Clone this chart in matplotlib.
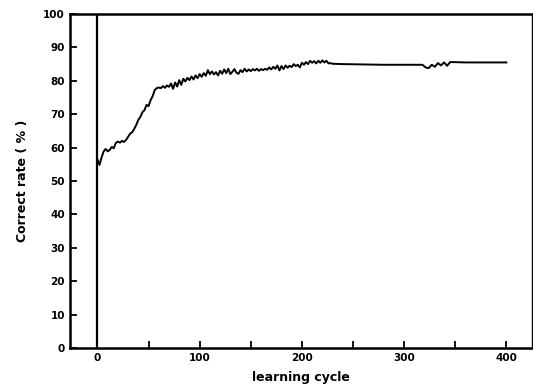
import matplotlib
matplotlib.use("Agg")
import matplotlib.pyplot as plt
from matplotlib.ticker import MultipleLocator

# learning cycles: every 2 cycles up to 230, then sparser tail
cycles_dense = list(range(0, 232, 2))
rate_dense = [56.5, 54.8, 57, 58.8, 59.6, 58.9, 59.3, 60.2, 59.8, 61.4,
              61.8, 61.5, 62, 61.7, 62.3, 63.2, 64.2, 64.6, 65.6, 66.8,
              68.3, 69.2, 70.6, 71.2, 72.8, 72.4, 74.2, 75.4, 77.2, 77.8,
              78, 77.8, 78.4, 77.9, 78.6, 78.2, 79.2, 77.6, 79.5, 78.3,
              80.2, 78.8, 80.6, 79.8, 80.9, 80.2, 81.3, 80.4, 81.6, 80.8,
              82, 81.2, 82.3, 81.5, 83.2, 82, 82.8, 81.9, 82.6, 81.6,
              83, 82.1, 83.4, 82.3, 83.6, 82, 82.7, 83.5, 82.4, 82.1,
              83.2, 82.6, 83.6, 82.8, 83.4, 82.9, 83.5, 83.1, 83.6, 83.0,
              83.5, 83.2, 83.6, 83.3, 84, 83.4, 84.2, 83.6, 84.6, 83.1,
              84.4, 83.5, 84.6, 83.9, 84.5, 84.1, 85, 84.4, 84.8, 84,
              85.4, 84.8, 85.6, 85, 86, 85.4, 85.9, 85.2, 86, 85.4,
              86.1, 85.5, 86, 85.2, 85.3, 85.1]
cycles_tail = [240, 260, 280, 300, 318, 321, 324, 327, 330, 333, 336, 339, 342, 345, 348, 360, 380, 400]
rate_tail = [85, 84.9, 84.8, 84.8, 84.8, 84, 83.8, 84.8, 84.2, 85.3, 84.6, 85.5, 84.5, 85.6, 85.6, 85.5, 85.5, 85.5]

x_labels = [0, 100, 200, 300, 400]
y_labels = [0, 10, 20, 30, 40, 50, 60, 70, 80, 90, 100]

cycles = cycles_dense + cycles_tail
rate = rate_dense + rate_tail

fig = plt.figure(figsize=(5.33, 3.87), dpi=100)
ax = fig.add_axes([0.131, 0.1008, 0.867, 0.863])
ax.plot(cycles, rate, color="black", lw=1.4)
ax.axvline(0, color="black", lw=1.6)
ax.set_xlim(-27, 425)
ax.set_ylim(0, 100)
ax.set_xticks(x_labels)
ax.xaxis.set_minor_locator(MultipleLocator(50))
ax.set_yticks(y_labels)
ax.tick_params(axis="both", which="both", direction="in", length=5, width=1.3,
               labelsize=7.5, top=False, right=False)
for lab in ax.get_xticklabels() + ax.get_yticklabels():
    lab.set_fontweight("bold")
for s in ax.spines.values():
    s.set_linewidth(1.8)
ax.spines["right"].set_linewidth(1.0)
ax.set_xlabel("learning cycle", fontsize=9, fontweight="bold", labelpad=6)
ax.set_ylabel("Correct rate ( % )", fontsize=9, fontweight="bold", labelpad=10)
fig.savefig("out.png", dpi=100)
